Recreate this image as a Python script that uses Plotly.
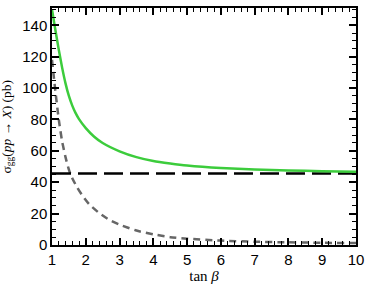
import plotly.graph_objects as go

tanb_green = [1.0, 1.1, 1.2, 1.3, 1.4, 1.5, 1.6, 1.7, 1.8, 2.0, 2.25, 2.5, 3.0, 3.5, 4.0, 4.5, 5.0, 6.0, 7.0, 8.0, 9.0, 10.0]
sigma_green = [150, 137, 124.5, 113, 103, 95, 88.8, 84, 80.2, 74.5, 69, 65, 59.7, 56.0, 53.5, 51.9, 50.6, 49.0, 48.1, 47.5, 47.0, 46.7]

tanb_grey = [1.0, 1.1, 1.2, 1.3, 1.4, 1.5, 1.6, 1.75, 1.9, 2.1, 2.4, 2.7, 3.0, 3.5, 4.0, 4.5, 5.0, 6.0, 7.0, 8.0, 9.0, 10.0]
sigma_grey = [118, 98, 80, 66, 56, 48, 42.5, 36.5, 31.5, 26, 20.3, 16, 13, 9.2, 6.8, 5.0, 4.0, 2.8, 2.1, 1.7, 1.4, 1.2]

tanb_ref = [1.0, 10.0]
sigma_ref = [45.5, 45.5]

fig = go.Figure()
fig.add_trace(go.Scatter(x=tanb_grey, y=sigma_grey, mode="lines",
                         line=dict(color="#666666", width=2.5, dash="7px,5px", shape="spline", smoothing=0.6)))
fig.add_trace(go.Scatter(x=tanb_ref, y=sigma_ref, mode="lines",
                         line=dict(color="black", width=2.5, dash="19px,7px")))
fig.add_trace(go.Scatter(x=tanb_green, y=sigma_green, mode="lines",
                         line=dict(color="#3ccc3c", width=2.5, shape="spline", smoothing=0.6)))

axis_common = dict(showline=True, linecolor="black", linewidth=1.5, mirror="allticks",
                   ticks="inside", ticklen=7, tickwidth=1.5, tickcolor="black",
                   showgrid=False, zeroline=False,
                   tickfont=dict(family="Liberation Sans, Arial", size=15, color="black"))

fig.update_xaxes(range=[1, 10], dtick=1, tick0=1,
                 minor=dict(dtick=0.2, ticklen=4, tickwidth=1, tickcolor="black", ticks="inside"),
                 title=dict(text="tan <i>β</i>", font=dict(family="Liberation Serif, Times New Roman", size=15, color="black"), standoff=4),
                 **axis_common)
fig.update_yaxes(range=[0, 151], dtick=20,
                 minor=dict(dtick=5, ticklen=4, tickwidth=1, tickcolor="black", ticks="inside"),
                 **axis_common)

fig.add_annotation(text="σ<sub>gg</sub>(<i>pp</i> → <i>X</i>) (pb)", xref="paper", yref="paper",
                   x=-0.148, y=0.5, xanchor="center", yanchor="middle", textangle=-90, showarrow=False,
                   font=dict(family="Liberation Serif, Times New Roman", size=13.5, color="black"))

fig.update_layout(width=374, height=288, showlegend=False,
                  margin=dict(l=52, r=18, t=6, b=41),
                  plot_bgcolor="white", paper_bgcolor="white")

fig.write_html("out.html", config={"displayModeBar": False},
               post_script="document.body.style.margin='0';")
